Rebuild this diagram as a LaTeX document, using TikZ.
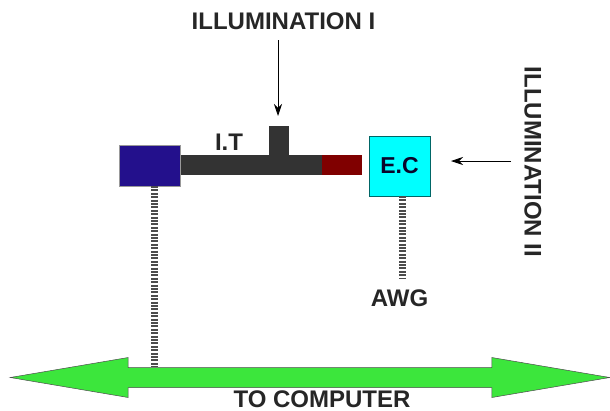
\documentclass[tikz,border=0pt]{standalone}
\usepackage{fontspec}
\setmainfont{Liberation Sans}
\usetikzlibrary{shapes,shapes.arrows,positioning,fit,calc,arrows.meta}

\definecolor{ecblue}{RGB}{0,255,255}
\definecolor{srcblue}{RGB}{35,16,140}
\definecolor{tipred}{RGB}{128,0,0}
\definecolor{busgreen}{RGB}{60,230,60}

\tikzset{
    label text/.style={font=\bfseries\fontsize{24}{28}\selectfont, text=black!85, inner sep=0},
    block/.style={inner sep=0, outer sep=0, draw=none},
    cable/.style={line width=7pt, draw=black!70, dash pattern=on 2pt off 1.4pt},
    light/.style={draw=black, line width=0.8pt, -{Stealth[length=12pt, width=8pt]}}
}

\begin{document}
\begin{tikzpicture}[x=1pt, y=-1pt]

        \def\d{0pt}
        \useasboundingbox (0, 0) rectangle (610, 410);

        % Blocks along the tube
        \begin{scope}
            \node (Source) [block, fill=srcblue, draw=black!40,
                minimum width=61pt, minimum height=41pt] at (149.5, 165.5) {};
            \node (Tube) [block, fill=black!80, minimum width=141pt, minimum height=20pt,
                right=1pt of Source, yshift=0.5pt] {};
            \node (Tip) [block, fill=tipred, minimum width=40pt,
                minimum height=20pt, right=\d of Tube] {};
            \node (Stub) [block, fill=black!80, minimum width=20pt, minimum height=29pt,
                above=\d of Tube, xshift=27.5pt] {};
            \node (EC) [block, fill=ecblue, draw=black!60!ecblue, line width=0.7pt,
                minimum width=61pt, minimum height=60pt, text=srcblue!30!black,
                font=\bfseries\fontsize{23}{27}\selectfont] at (399.5, 166) {E.C};
        \end{scope}

        % Bus at the bottom
        \node (Bus) [double arrow, draw=black!70, line width=0.5pt,
            fill=busgreen, inner xsep=0, inner ysep=9.75pt, outer sep=0,
            minimum height=599.5pt, minimum width=40pt,
            double arrow head extend=10pt, double arrow tip angle=19.25] at (310, 377.5) {};

        % Texts
        \node (Ill1) [label text] at (283.5, 21) {ILLUMINATION I};
        \node (Ill2) [label text, rotate=-90] at (533, 162) {ILLUMINATION II};
        \node (IT) [label text] at (229, 142) {I.T};
        \node (AWG) [label text] at (399.5, 298) {AWG};
        \node (Comp) [label text] at (322, 399) {TO COMPUTER};

        \coordinate (Ill1end) at (278, 116);
        \coordinate (Ill2end) at (451, 161);
        \coordinate (Sourcedown) at (154.5, 186);
        \coordinate (Busup) at (154.5, 367);
        \coordinate (ECdown) at (402.5, 196);
        \coordinate (AWGup) at (402.5, 279);

        \begin{scope}
            \draw[light] (278, 40) -- (Ill1end);
            \draw[light] (511, 161) -- (Ill2end);
            \draw[cable] (Sourcedown) -- (Busup);
            \draw[cable] (ECdown) -- (AWGup);
        \end{scope}

\end{tikzpicture}
\end{document}
